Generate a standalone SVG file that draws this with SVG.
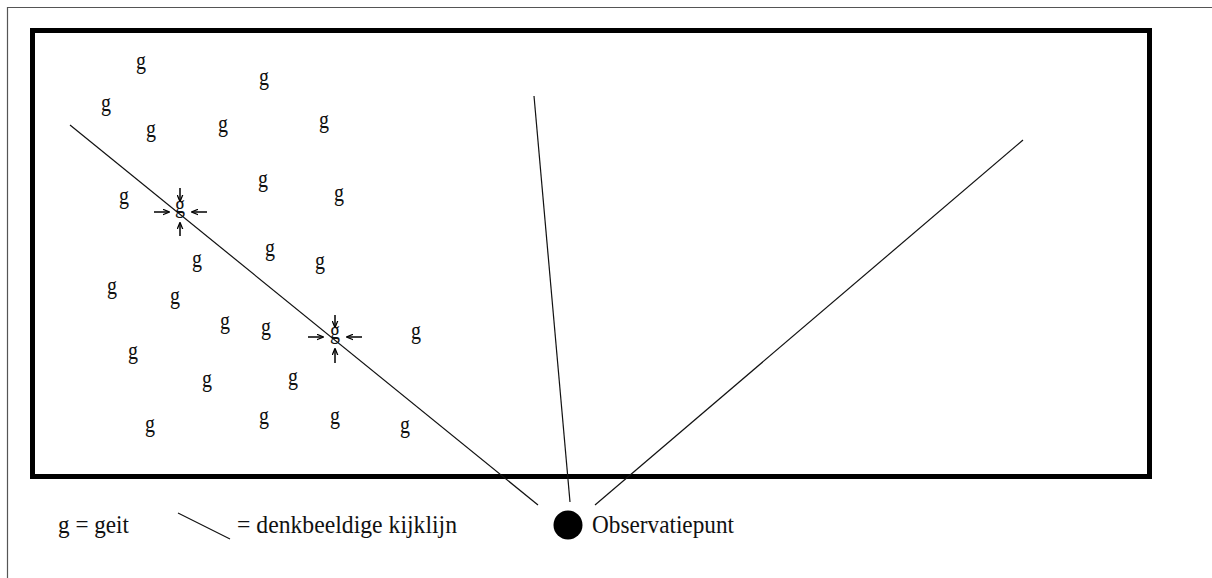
<svg xmlns="http://www.w3.org/2000/svg" width="1212" height="578" viewBox="0 0 1212 578">
  <style>
    .g { font-family: "Liberation Serif", "Times New Roman", serif; font-size: 20px; fill: #111; text-anchor: middle; }
    .lg { font-family: "Liberation Serif", "Times New Roman", serif; font-size: 23px; fill: #111; }
    .sight { stroke: #111; stroke-width: 1.2; fill: none; }
    .arr { stroke: #000; stroke-width: 1.5; fill: none; marker-end: url(#ah); }
  </style>
  <defs>
    <marker id="ah" viewBox="0 0 10 10" refX="9" refY="5" markerWidth="7" markerHeight="7" markerUnits="userSpaceOnUse" orient="auto">
      <path d="M0,1 L10,5 L0,9" fill="none" stroke="#000" stroke-width="1.8"/>
    </marker>
  </defs>
  <rect x="0" y="0" width="1212" height="578" fill="#fff"/>
  <g id="frame">
    <path d="M7.5,578 V7.5 H1212" fill="none" stroke="#555" stroke-width="1.2"/>
    <rect x="32.5" y="30.5" width="1117" height="446" fill="none" stroke="#000" stroke-width="5"/>
  </g>
  <g id="connectors">
    <line class="sight" x1="70" y1="125" x2="538" y2="505"/>
    <line class="sight" x1="534" y1="96" x2="570" y2="502"/>
    <line class="sight" x1="1023" y1="140" x2="595" y2="505"/>
    <line class="arr" x1="180" y1="188" x2="180" y2="201"/>
    <line class="arr" x1="180" y1="236" x2="180" y2="223"/>
    <line class="arr" x1="154" y1="212" x2="169" y2="212"/>
    <line class="arr" x1="207" y1="212" x2="192" y2="212"/>
    <line class="arr" x1="335" y1="315" x2="335" y2="327"/>
    <line class="arr" x1="335" y1="363" x2="335" y2="349"/>
    <line class="arr" x1="308" y1="337" x2="323" y2="337"/>
    <line class="arr" x1="362" y1="337" x2="347" y2="337"/>
  </g>
  <g id="goats">
    <g id="g1" transform="translate(141,66) scale(1,1.25)"><text class="g" x="0" y="2.5">g</text></g>
    <g id="g2" transform="translate(264,82) scale(1,1.25)"><text class="g" x="0" y="2.5">g</text></g>
    <g id="g3" transform="translate(106,108) scale(1,1.25)"><text class="g" x="0" y="2.5">g</text></g>
    <g id="g4" transform="translate(151,134) scale(1,1.25)"><text class="g" x="0" y="2.5">g</text></g>
    <g id="g5" transform="translate(223,129) scale(1,1.25)"><text class="g" x="0" y="2.5">g</text></g>
    <g id="g6" transform="translate(324,125) scale(1,1.25)"><text class="g" x="0" y="2.5">g</text></g>
    <g id="g7" transform="translate(124,201) scale(1,1.25)"><text class="g" x="0" y="2.5">g</text></g>
    <g id="g8" transform="translate(263,184) scale(1,1.25)"><text class="g" x="0" y="2.5">g</text></g>
    <g id="g9" transform="translate(339,198) scale(1,1.25)"><text class="g" x="0" y="2.5">g</text></g>
    <g id="g10" transform="translate(180,210) scale(1,1.25)"><text class="g" x="0" y="2.5">g</text></g>
    <g id="g11" transform="translate(197,264) scale(1,1.25)"><text class="g" x="0" y="2.5">g</text></g>
    <g id="g12" transform="translate(270,253) scale(1,1.25)"><text class="g" x="0" y="2.5">g</text></g>
    <g id="g13" transform="translate(320,266) scale(1,1.25)"><text class="g" x="0" y="2.5">g</text></g>
    <g id="g14" transform="translate(112,291) scale(1,1.25)"><text class="g" x="0" y="2.5">g</text></g>
    <g id="g15" transform="translate(175,301) scale(1,1.25)"><text class="g" x="0" y="2.5">g</text></g>
    <g id="g16" transform="translate(225,326) scale(1,1.25)"><text class="g" x="0" y="2.5">g</text></g>
    <g id="g17" transform="translate(266,332) scale(1,1.25)"><text class="g" x="0" y="2.5">g</text></g>
    <g id="g18" transform="translate(335,336) scale(1,1.25)"><text class="g" x="0" y="2.5">g</text></g>
    <g id="g19" transform="translate(416,336) scale(1,1.25)"><text class="g" x="0" y="2.5">g</text></g>
    <g id="g20" transform="translate(133,356) scale(1,1.25)"><text class="g" x="0" y="2.5">g</text></g>
    <g id="g21" transform="translate(207,384) scale(1,1.25)"><text class="g" x="0" y="2.5">g</text></g>
    <g id="g22" transform="translate(293,382) scale(1,1.25)"><text class="g" x="0" y="2.5">g</text></g>
    <g id="g23" transform="translate(150,429) scale(1,1.25)"><text class="g" x="0" y="2.5">g</text></g>
    <g id="g24" transform="translate(264,421) scale(1,1.25)"><text class="g" x="0" y="2.5">g</text></g>
    <g id="g25" transform="translate(335,421) scale(1,1.25)"><text class="g" x="0" y="2.5">g</text></g>
    <g id="g26" transform="translate(405,430) scale(1,1.25)"><text class="g" x="0" y="2.5">g</text></g>
  </g>
  <g id="observatiepunt">
    <circle cx="568" cy="525" r="14.5" fill="#000"/>
    <g transform="translate(592,533) scale(1,1.12)"><text class="lg" x="0" y="0" textLength="142" lengthAdjust="spacingAndGlyphs">Observatiepunt</text></g>
  </g>
  <g id="legend">
    <g transform="translate(58,533) scale(1,1.12)"><text class="lg" x="0" y="0" textLength="71" lengthAdjust="spacingAndGlyphs">g = geit</text></g>
    <line class="sight" x1="178" y1="513" x2="230" y2="539"/>
    <g transform="translate(237,533) scale(1,1.12)"><text class="lg" x="0" y="0" textLength="220" lengthAdjust="spacingAndGlyphs">= denkbeeldige kijklijn</text></g>
  </g>
</svg>
